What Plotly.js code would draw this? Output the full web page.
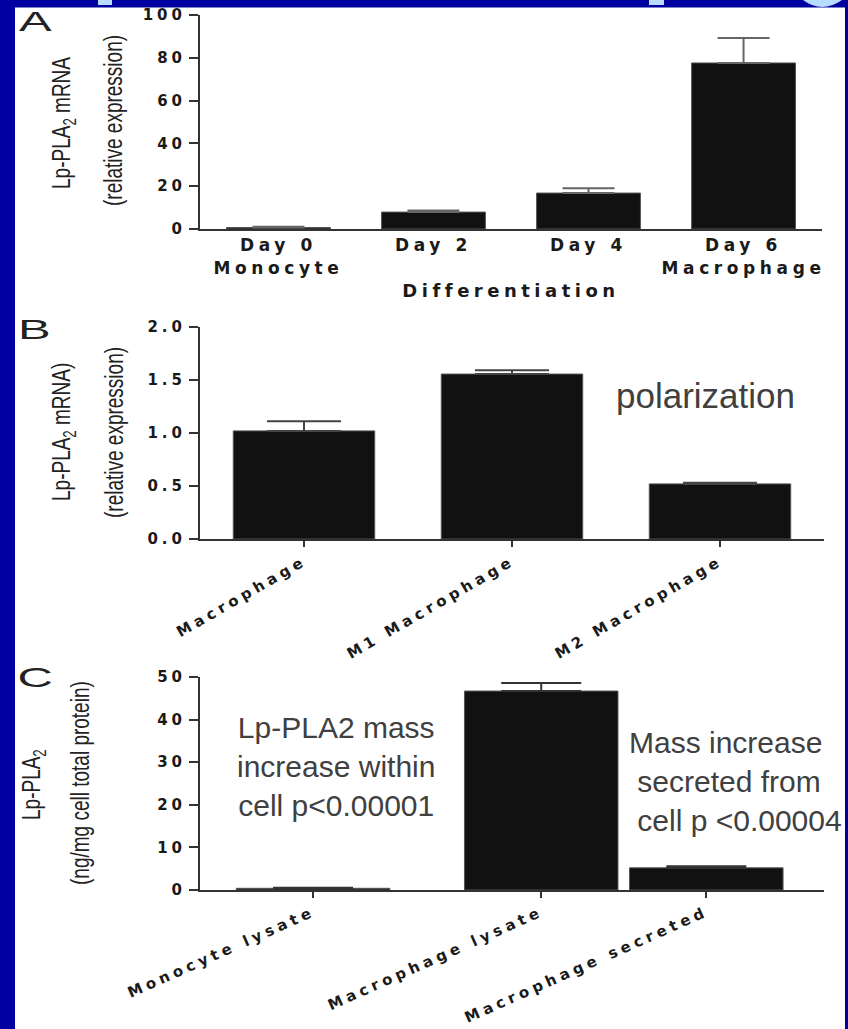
<!DOCTYPE html>
<html><head><meta charset="utf-8">
<script src="https://cdn.plot.ly/plotly-3.0.1.min.js"></script>
<style>
html,body{margin:0;padding:0;background:#fff;overflow:hidden;}
#chart{width:848px;height:1029px;}
.ytick text,.y2tick text,.y3tick text{letter-spacing:4px;}
.xtick text{letter-spacing:4.6px;}
.x2tick text,.x3tick text{letter-spacing:4.3px;}
.g-xtitle text{letter-spacing:4.5px;}
.annotation[data-index="3"] text,.annotation[data-index="4"] text,.annotation[data-index="5"] text,
.annotation[data-index="6"] text,.annotation[data-index="7"] text,.annotation[data-index="8"] text{
  transform-box:fill-box;transform-origin:center;transform:scaleY(1.4);}
.annotation[data-index="0"] text,.annotation[data-index="1"] text,.annotation[data-index="2"] text{
  transform-box:fill-box;transform-origin:center;transform:scaleX(1.75);}
</style></head><body><div id="chart"></div>
<script>
// ---- Panel A: differentiation ----
const diffCategories = ['Day 0<br>Monocyte', 'Day 2', 'Day 4', 'Day 6<br>Macrophage'];
const diffMean = [0.7, 7.9, 16.8, 77.6];
const diffErr = [0.3, 0.8, 2.3, 11.7];
// ---- Panel B: polarization ----
const polCategories = ['Macrophage', 'M1 Macrophage', 'M2 Macrophage'];
const polMean = [1.02, 1.556, 0.52];
const polErr = [0.09, 0.035, 0.01];
// ---- Panel C: protein mass ----
const massCategories = ['Monocyte lysate', 'Macrophage lysate', 'Macrophage secreted'];
const massMean = [0.4, 46.7, 5.2];
const massErr = [0.1, 1.9, 0.4];

// layout helpers (pixel -> paper)
const W = 848, H = 1029;
const fx = p => p / W, fy = p => 1 - p / H;
// uneven slot layout of panel C (layout, not data)
const massSlots = [0, 1.382, 2.382];

const tickFont = {family: 'DejaVu Sans', size: 15, weight: 'bold', color: '#1a1a1a'};
const titleFont = {family: 'Liberation Sans, Arial, sans-serif', size: 19, color: '#222'};
const noteFont = {family: 'Liberation Sans, Arial, sans-serif', size: 30, color: '#404040'};
const zeros = a => a.map(() => 0);

const barStyle = {color: '#111', line: {color: '#555', width: 1}};

const traces = [
  {type: 'bar', x: diffCategories, y: diffMean, xaxis: 'x', yaxis: 'y', width: 0.67,
   marker: barStyle, hoverinfo: 'skip',
   error_y: {type: 'data', symmetric: false, array: diffErr, arrayminus: zeros(diffErr), color: '#666', thickness: 2, width: 26}},
  {type: 'bar', x: polCategories, y: polMean, xaxis: 'x2', yaxis: 'y2', width: 0.68,
   marker: barStyle, hoverinfo: 'skip',
   error_y: {type: 'data', symmetric: false, array: polErr, arrayminus: zeros(polErr), color: '#444', thickness: 2, width: 37}},
  {type: 'bar', x: massSlots, y: massMean, xaxis: 'x3', yaxis: 'y3', width: 0.93,
   marker: barStyle, hoverinfo: 'skip',
   error_y: {type: 'data', symmetric: false, array: massErr, arrayminus: zeros(massErr), color: '#333', thickness: 2, width: 40}}
];

const axLine = {showline: true, linecolor: '#333', linewidth: 2, showgrid: false, zeroline: false, fixedrange: true};
const yTicks = {ticks: 'outside', ticklen: 9, tickwidth: 2, tickcolor: '#333', tickfont: tickFont};

const layout = {
  width: W, height: H,
  margin: {l: 0, r: 0, t: 0, b: 0},
  paper_bgcolor: '#fff', plot_bgcolor: 'rgba(0,0,0,0)',
  showlegend: false, bargap: 0,
  xaxis: Object.assign({}, axLine, {domain: [fx(200), fx(822)], anchor: 'y', type: 'category',
    range: [-0.506, 3.506], ticks: '', tickfont: {family: 'DejaVu Sans', size: 17, weight: 'bold', color: '#1a1a1a'},
    title: {text: 'Differentiation', standoff: 8, font: {family: 'DejaVu Sans', size: 18, weight: 'bold', color: '#1a1a1a'}}}),
  yaxis: Object.assign({}, axLine, yTicks, {domain: [fy(229), fy(15)], anchor: 'x', range: [0, 100], dtick: 20}),
  xaxis2: Object.assign({}, axLine, {domain: [fx(200), fx(824)], anchor: 'y2', type: 'category',
    range: [-0.5, 2.5], ticks: 'outside', ticklen: 6, tickwidth: 2, tickcolor: '#333', tickangle: -30, tickfont: tickFont}),
  yaxis2: Object.assign({}, axLine, yTicks, {domain: [fy(539), fy(327)], anchor: 'x2', range: [0, 2], dtick: 0.5, tickformat: '.1f'}),
  xaxis3: Object.assign({}, axLine, {domain: [fx(200), fx(824)], anchor: 'y3', type: 'linear',
    range: [-0.685, 3.095], tickmode: 'array', tickvals: massSlots, ticktext: massCategories,
    ticks: 'outside', ticklen: 6, tickwidth: 2, tickcolor: '#333', tickangle: -24, tickfont: tickFont}),
  yaxis3: Object.assign({}, axLine, yTicks, {domain: [fy(890), fy(677)], anchor: 'x3', range: [0, 50], dtick: 10}),
  shapes: [
    {type: 'rect', xref: 'paper', yref: 'paper', x0: 0, x1: fx(15), y0: 0, y1: 1, fillcolor: '#0000A0', line: {width: 0}, layer: 'above'},
    {type: 'rect', xref: 'paper', yref: 'paper', x0: 0, x1: 1, y0: fy(7.5), y1: 1, fillcolor: '#0000A0', line: {width: 0}, layer: 'above'},
    {type: 'rect', xref: 'paper', yref: 'paper', x0: fx(845), x1: 1, y0: 0, y1: 1, fillcolor: '#0000A0', line: {width: 0}, layer: 'above'},
    {type: 'rect', xref: 'paper', yref: 'paper', x0: fx(98), x1: fx(112), y0: fy(5), y1: 1, fillcolor: '#B8DCFF', line: {width: 0}, layer: 'above'},
    {type: 'rect', xref: 'paper', yref: 'paper', x0: fx(649), x1: fx(664), y0: fy(5), y1: 1, fillcolor: '#B8DCFF', line: {width: 0}, layer: 'above'},
    {type: 'path', xref: 'paper', yref: 'paper', path: 'M ' + fx(803) + ' 1 Q ' + fx(822) + ' ' + fy(14) + ' ' + fx(842) + ' 1 Z', fillcolor: '#B8DCFF', line: {width: 0}, layer: 'above'}
  ],
  annotations: []
};

const ann = (text, x, y, font, extra) => Object.assign({text: text, xref: 'paper', yref: 'paper', x: fx(x), y: fy(y),
  xanchor: 'center', yanchor: 'middle', showarrow: false, font: font}, extra || {});

const letterFont = {family: 'Liberation Sans, Arial, sans-serif', size: 28, color: '#222'};
layout.annotations.push(ann('A', 35, 21, letterFont));
layout.annotations.push(ann('B', 34, 329, letterFont));
layout.annotations.push(ann('C', 35, 677, letterFont));

layout.annotations.push(ann('Lp-PLA<sub>2</sub> mRNA', 63, 123, titleFont, {textangle: -90}));
layout.annotations.push(ann('(relative expression)', 113, 121, titleFont, {textangle: -90}));
layout.annotations.push(ann('Lp-PLA<sub>2</sub> mRNA)', 63, 432, titleFont, {textangle: -90}));
layout.annotations.push(ann('(relative expression)', 113, 433, titleFont, {textangle: -90}));
layout.annotations.push(ann('Lp-PLA<sub>2</sub>', 33, 785, titleFont, {textangle: -90}));
layout.annotations.push(ann('(ng/mg cell total protein)', 79, 783, titleFont, {textangle: -90}));

layout.annotations.push(ann('polarization', 705, 395, {family: 'Liberation Sans, Arial, sans-serif', size: 35, color: '#404040'}));
layout.annotations.push(ann('Lp-PLA2 mass<br>increase within<br>cell p<0.00001', 336, 766, noteFont, {align: 'center'}));
layout.annotations.push(ann('Mass increase<br>\u00a0secreted from<br>\u00a0cell p <0.00004', 627, 781, noteFont, {align: 'left', xanchor: 'left'}));

Plotly.newPlot('chart', traces, layout, {staticPlot: true, displayModeBar: false});
</script></body></html>
